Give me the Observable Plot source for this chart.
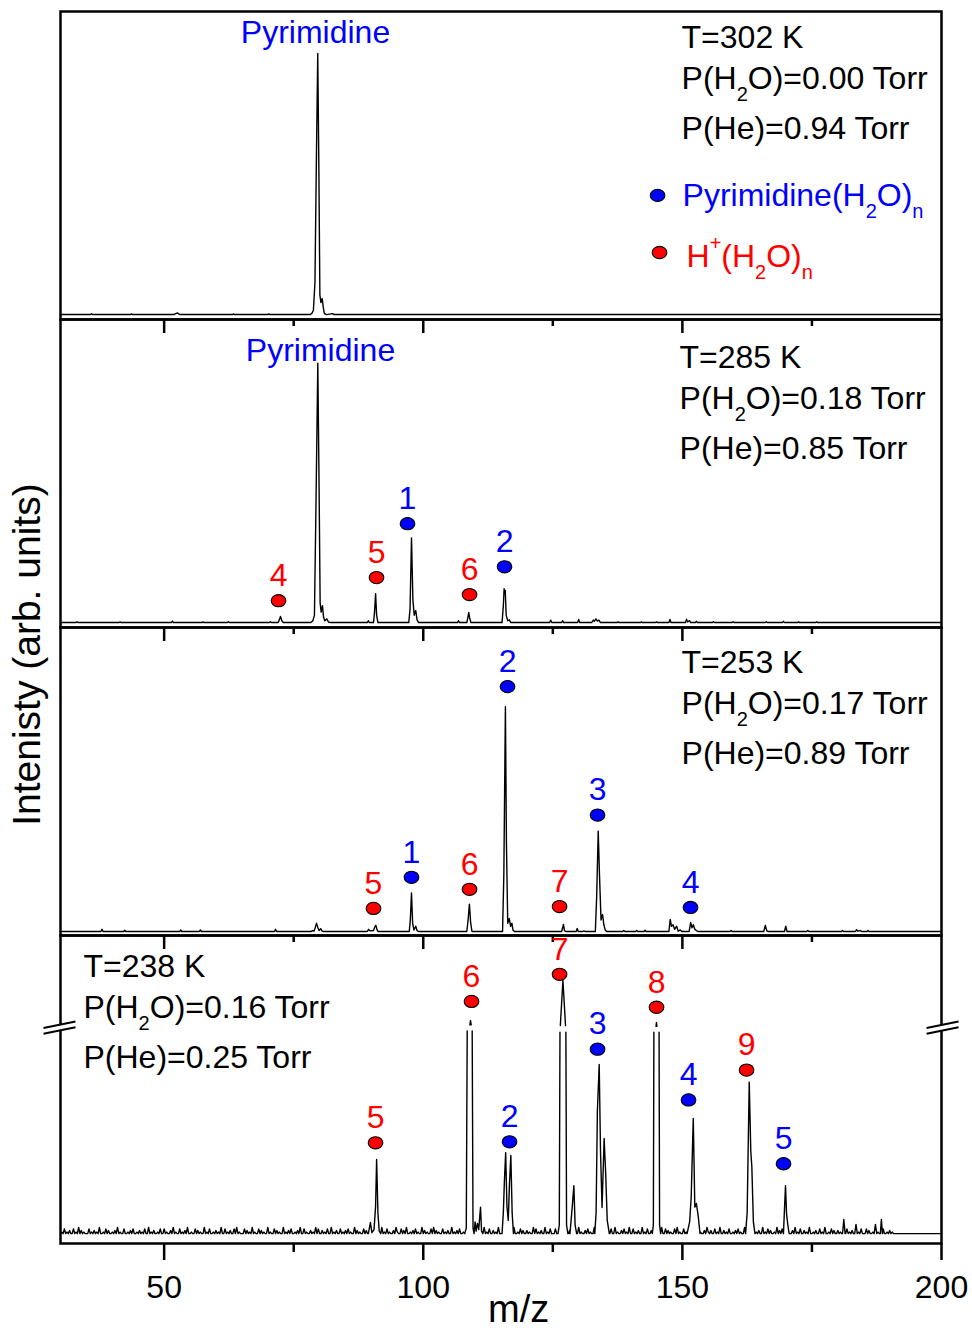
<!DOCTYPE html>
<html><head><meta charset="utf-8">
<script src="https://cdn.jsdelivr.net/npm/d3@7"></script>
<script src="https://cdn.jsdelivr.net/npm/@observablehq/plot@0.6"></script>
<style>html,body{margin:0;padding:0;background:#fff}</style>
</head><body><div id="chart"></div>
<script>
// ---------------- data ----------------
const panels = [1, 2, 3, 4];
const mzDomain = [30, 200];
const xTickLabels = [50, 100, 150, 200];
const xMinorTicks = [75, 125, 175];
const temperatures = ["302", "285", "253", "238"];
const pressureH2O = ["0.00", "0.18", "0.17", "0.16"];
const pressureHe = ["0.94", "0.85", "0.89", "0.25"];
const parentName = "Pyrimidine";
const seriesNames = {P: "Pyrimidine(H_2O)_n", H: "H^+(H_2O)_n"};
const seriesColors = {P: "#0000ff", H: "#ff0000"};

// spectra: [m/z, relative intensity (fraction of panel height)]
const trace1 = [[30,0.016],[35.8,0.016],[36.0,0.019],[36.2,0.016],[43.5,0.016],[43.7,0.018],[43.9,0.016],[51.9,0.016],[52.2,0.019],[52.6,0.021],[52.9,0.017],[53.2,0.016],[63.2,0.016],[63.4,0.018],[63.6,0.016],[70.0,0.016],[70.2,0.018],[70.4,0.016],[78.2,0.016],[78.5,0.02],[78.8,0.03],[79.1,0.12],[79.4,0.55],[79.64,0.864],[79.85,0.5],[80.05,0.08],[80.25,0.055],[80.5,0.068],[80.7,0.04],[80.9,0.02],[81.3,0.016],[82.5,0.019],[82.8,0.016],[200,0.016]];
const trace2 = [[30,0.016],[33.0,0.016],[33.2,0.019],[33.4,0.016],[41.3,0.016],[41.5,0.018],[41.7,0.016],[51.4,0.016],[51.6,0.021],[51.8,0.016],[57.3,0.016],[57.5,0.018],[57.7,0.016],[62.2,0.016],[62.4,0.019],[62.6,0.016],[70.3,0.016],[70.5,0.019],[70.7,0.016],[72.0,0.016],[72.2,0.024],[72.45,0.036],[72.7,0.022],[73.0,0.016],[78.3,0.016],[78.7,0.022],[79.0,0.04],[79.3,0.4],[79.65,0.858],[79.9,0.45],[80.1,0.08],[80.3,0.05],[80.55,0.071],[80.75,0.035],[81.0,0.022],[81.4,0.028],[81.7,0.018],[82.1,0.016],[89.2,0.016],[89.4,0.022],[89.6,0.016],[90.4,0.016],[90.6,0.05],[90.8,0.110],[91.0,0.04],[91.25,0.016],[97.2,0.016],[97.45,0.06],[97.73,0.291],[98.0,0.09],[98.25,0.04],[98.55,0.055],[98.8,0.025],[99.1,0.016],[106.6,0.016],[106.8,0.022],[107.0,0.016],[108.4,0.016],[108.6,0.032],[108.78,0.049],[108.95,0.03],[109.2,0.016],[115.2,0.016],[115.45,0.07],[115.6,0.126],[115.72,0.11],[115.82,0.12],[116.0,0.04],[116.3,0.022],[116.6,0.025],[116.9,0.016],[124.4,0.016],[124.6,0.024],[124.8,0.016],[126.7,0.016],[126.9,0.022],[127.1,0.016],[129.8,0.016],[130.0,0.026],[130.2,0.016],[132.5,0.016],[132.8,0.024],[133.0,0.02],[133.3,0.028],[133.6,0.021],[133.9,0.024],[134.2,0.016],[137.4,0.016],[137.6,0.018],[137.8,0.016],[141.9,0.016],[142.1,0.018],[142.3,0.016],[144.8,0.016],[145.0,0.018],[145.2,0.016],[147.4,0.016],[147.6,0.026],[147.8,0.016],[150.6,0.016],[150.8,0.027],[151.0,0.018],[151.4,0.022],[151.6,0.016],[152.5,0.016],[152.7,0.02],[152.9,0.016],[155.8,0.016],[156.0,0.019],[156.2,0.016],[159.6,0.016],[159.8,0.019],[160.0,0.016],[166.0,0.016],[166.2,0.019],[166.4,0.016],[169.3,0.016],[169.5,0.02],[169.7,0.016],[172.2,0.016],[172.4,0.018],[172.6,0.016],[175.7,0.016],[175.9,0.018],[176.1,0.016],[200,0.016]];
const trace3 = [[30,0.013],[37.8,0.013],[38.0,0.02],[38.2,0.013],[42.2,0.013],[42.4,0.017],[42.6,0.013],[53.0,0.013],[53.2,0.018],[53.4,0.013],[56.8,0.013],[57.0,0.018],[57.2,0.013],[71.3,0.013],[71.5,0.02],[71.7,0.013],[78.4,0.013],[78.6,0.016],[78.9,0.014],[79.15,0.025],[79.4,0.04],[79.65,0.026],[79.9,0.016],[80.2,0.022],[80.5,0.014],[80.8,0.013],[89.2,0.013],[89.45,0.02],[89.7,0.015],[90.4,0.016],[90.65,0.028],[90.85,0.033],[91.1,0.018],[91.3,0.013],[97.3,0.013],[97.5,0.05],[97.73,0.138],[97.95,0.04],[98.2,0.018],[98.55,0.03],[98.8,0.016],[99.1,0.013],[108.4,0.013],[108.65,0.05],[108.9,0.102],[109.15,0.04],[109.4,0.013],[115.3,0.013],[115.55,0.2],[115.85,0.743],[116.05,0.3],[116.3,0.04],[116.6,0.055],[116.85,0.03],[117.1,0.04],[117.3,0.018],[117.6,0.013],[126.7,0.013],[126.9,0.025],[127.05,0.036],[127.25,0.016],[127.5,0.013],[129.5,0.013],[129.7,0.023],[129.9,0.013],[130.8,0.013],[131.0,0.015],[131.2,0.013],[133.2,0.013],[133.45,0.12],[133.76,0.339],[134.0,0.2],[134.3,0.05],[134.6,0.068],[134.85,0.035],[135.1,0.018],[135.4,0.013],[138.5,0.013],[138.7,0.016],[138.9,0.013],[141.0,0.013],[141.2,0.016],[141.4,0.013],[142.6,0.013],[142.8,0.017],[143.0,0.013],[147.4,0.013],[147.65,0.052],[147.9,0.03],[148.2,0.035],[148.5,0.02],[148.9,0.03],[149.2,0.014],[149.6,0.018],[149.9,0.013],[151.3,0.013],[151.6,0.042],[151.85,0.025],[152.1,0.035],[152.4,0.02],[152.7,0.016],[153.0,0.013],[159.2,0.013],[159.4,0.016],[159.6,0.013],[165.7,0.013],[166.0,0.033],[166.3,0.015],[166.6,0.013],[169.7,0.013],[169.95,0.03],[170.2,0.013],[174.0,0.013],[174.2,0.016],[174.4,0.013],[180.7,0.013],[180.9,0.016],[181.1,0.013],[183.4,0.013],[183.6,0.019],[183.8,0.014],[184.3,0.016],[184.6,0.013],[185.6,0.013],[185.8,0.016],[186.0,0.013],[200,0.013]];
// panel 4: baseline noise read every 0.25 m/z from 30 to 191 (level digits), plus peak segments
const trace4NoiseStart = 30, trace4NoiseStep = 0.25;
const trace4NoiseBase = 0.032, trace4NoiseLevel = 0.005;
const trace4Noise =
  "01030102003010402010" + "00301020104001030200" + "10204010030010203001" + "02010300401020010300" +
  "30100204010030102040" + "01003020100401030010" + "20104003010200304010" + "00302010401003020100" +
  "40100302010040102030" + "01020400301002010403" + "00201030040102003010" + "20301004020100302010" +
  "03010200401030100204" + "10030204001020301004" + "02010030402010030102" + "00401020300104020100" +
  "30102004010300201040" + "01030010204001030200" + "20100403010200401030" + "00302001040102030010" +
  "40100203010040102003" + "01020300401002030104" + "00301020040103002010" + "20104003020100304010" +
  "03010020401030100204" + "10200301040020103001" + "02030100402010030102" + "00401030200104020300" +
  "30100204010300201040" + "01020030104001030200" + "20100403010200601030" + "00302001060102030010" +
  "20100";
const trace4Peaks = [
  [[89.4,0.032],[89.8,0.068],[90.1,0.035],[90.5,0.045],[90.8,0.12],[91.0,0.273],[91.25,0.1],[91.5,0.04],[91.8,0.032]],
  [[108.0,0.032],[108.3,0.05],[108.48,0.69],[null,null],[109.0,0.71],[109.12,0.724],[109.24,0.71],[null,null],[109.44,0.69],[109.6,0.05],[109.8,0.032],[110.0,0.07],[110.2,0.04],[110.45,0.065],[110.7,0.045],[111.05,0.118],[111.25,0.04],[111.5,0.032]],
  [[115.2,0.032],[115.45,0.1],[115.65,0.2],[115.9,0.295],[116.15,0.12],[116.4,0.075],[116.65,0.2],[116.9,0.286],[117.15,0.1],[117.4,0.032]],
  [[126.0,0.032],[126.25,0.06],[126.38,0.686],[null,null],[126.45,0.708],[126.95,0.854],[127.45,0.708],[null,null],[127.52,0.686],[127.65,0.06],[127.9,0.032]],
  [[128.3,0.032],[128.55,0.08],[128.75,0.12],[129.06,0.188],[129.3,0.06],[129.6,0.032]],
  [[133.1,0.032],[133.35,0.1],[133.6,0.432],[133.95,0.581],[134.2,0.3],[134.5,0.117],[134.9,0.341],[135.2,0.227],[135.5,0.075],[135.9,0.032]],
  [[144.2,0.032],[144.4,0.06],[144.5,0.686],[null,null],[144.92,0.705],[145.0,0.718],[145.08,0.705],[null,null],[145.5,0.686],[145.6,0.06],[145.8,0.032]],
  [[150.9,0.032],[151.4,0.07],[151.7,0.15],[152.1,0.406],[152.4,0.118],[152.7,0.13],[153.05,0.09],[153.4,0.032]],
  [[162.2,0.032],[162.5,0.1],[162.9,0.524],[163.2,0.3],[163.4,0.25],[163.7,0.07],[164.0,0.032]],
  [[169.5,0.032],[169.9,0.188],[170.1,0.097],[170.35,0.06],[170.6,0.032]],
  [[180.9,0.032],[181.15,0.078],[181.4,0.032]],
  [[188.2,0.032],[188.4,0.078],[188.6,0.032]]
];
const trace4Tail = [[191.3,0.032],[200,0.032]];

// cluster markers: [panel, m/z, height, series, n]
const markers = [
  [2,72.07,0.087,"H",4],[2,90.98,0.162,"H",5],[2,96.96,0.337,"P",1],[2,108.93,0.107,"H",6],[2,115.68,0.197,"P",2],
  [3,90.40,0.088,"H",5],[3,97.73,0.189,"P",1],[3,108.93,0.150,"H",6],[3,116.26,0.808,"P",2],[3,126.30,0.094,"H",7],[3,133.63,0.391,"P",3],[3,151.57,0.091,"P",4],
  [4,90.79,0.327,"H",5],[4,109.31,0.786,"H",6],[4,116.65,0.330,"P",2],[4,126.30,0.874,"H",7],[4,133.63,0.631,"P",3],[4,145.01,0.767,"H",8],[4,151.19,0.466,"P",4],[4,162.38,0.563,"H",9],[4,169.52,0.259,"P",5]
];

// ---------------- layout (data-space anchors) ----------------
const W = 972, H = 1331, MT = 10, MB = 88, ML = 60, MR = 31;
const PANEL_PX = (H - MT - MB) / panels.length;
const condAnchor = {1: [149.84, 0.880], 2: [149.45, 0.841], 3: [149.84, 0.853], 4: [34.44, 0.864]};
const condLineDy = [0, 41, 91];
const parentLabelAt = [{panel: 1, mz: 79.21, y: 0.897}, {panel: 2, mz: 80.17, y: 0.864}];
const legendAt = [
  {s: "P", dot: [145.21, 0.403], text: [150.03, 0.367]},
  {s: "H", dot: [145.59, 0.2175], text: [150.80, 0.172]}
];
const yLabelAt = {panel: 3, mz: 26.14, y: 0.912};
const xLabelAt = {panel: 4, mz: 118.4, y: -0.256};
const breakAt = [[26.72, 32.89], [197.12, 203.29]];
const breakY = [[0.700, 0.721], [0.681, 0.702]];

// ---------------- build rows ----------------
const traceRows = [];
[trace1, trace2, trace3].forEach((t, i) => t.forEach(([mz, y]) => traceRows.push({panel: i + 1, mz, y})));
{
  const ranges = trace4Peaks.map(seg => [seg[0][0], seg[seg.length - 1][0]]);
  const pieces = [];
  for (let i = 0; i < trace4Noise.length; i++) {
    const mz = trace4NoiseStart + i * trace4NoiseStep;
    if (ranges.some(([a, b]) => mz >= a && mz <= b)) continue;
    pieces.push({start: mz, pts: [[mz, trace4NoiseBase + Number(trace4Noise[i]) * trace4NoiseLevel]]});
  }
  trace4Peaks.forEach(seg => pieces.push({start: seg[0][0], pts: seg}));
  pieces.sort((a, b) => a.start - b.start);
  pieces.forEach(p => p.pts.forEach(([mz, y]) => traceRows.push({panel: 4, mz: mz ?? NaN, y: y ?? NaN})));
  trace4Tail.forEach(([mz, y]) => traceRows.push({panel: 4, mz, y}));
}
const markerRows = markers.map(([panel, mz, y, s, n]) => ({panel, mz, y, s, n: String(n)}));

const topTicks = [2, 3, 4].flatMap(panel => [
  ...xTickLabels.filter(t => t < mzDomain[1]).map(x => ({panel, x, len: 14 / PANEL_PX})),
  ...xMinorTicks.map(x => ({panel, x, len: 7 / PANEL_PX}))
]);
const bottomTicks = [
  ...xTickLabels.map(x => ({panel: 4, x, len: 17 / PANEL_PX})),
  ...xMinorTicks.map(x => ({panel: 4, x, len: 9 / PANEL_PX}))
];
const condRows = panels.map((p, i) => ({
  panel: p, x: condAnchor[p][0], y: condAnchor[p][1],
  lines: ["T=" + temperatures[i] + " K", "P(H_2O)=" + pressureH2O[i] + " Torr", "P(He)=" + pressureHe[i] + " Torr"]
}));
const breakLines = breakAt.flatMap(([x1, x2]) => breakY.map(([y1, y2]) => ({panel: 4, x1, x2, y1, y2})));
const breakFill = breakAt.map(([x1, x2]) => ({panel: 4, x1, x2, y1: (breakY[0][0] + breakY[1][0]) / 2, y2: (breakY[0][1] + breakY[1][1]) / 2}));

// ellipse marker symbol
const ellipse = {
  draw(ctx, size) {
    const r = Math.sqrt(size / Math.PI), rx = r * 1.2, ry = r, k = 0.5523;
    ctx.moveTo(rx, 0);
    ctx.bezierCurveTo(rx, ry * k, rx * k, ry, 0, ry);
    ctx.bezierCurveTo(-rx * k, ry, -rx, ry * k, -rx, 0);
    ctx.bezierCurveTo(-rx, -ry * k, -rx * k, -ry, 0, -ry);
    ctx.bezierCurveTo(rx * k, -ry, rx, -ry * k, rx, 0);
    ctx.closePath();
  }
};

const FONT = "'Liberation Sans', Arial, Helvetica, sans-serif";
const marks = [
  Plot.frame({stroke: "black", strokeWidth: 2.5}),
  Plot.line(traceRows, {x: "mz", y: "y", fy: "panel", stroke: "black", strokeWidth: 1.4, strokeLinejoin: "round"}),
  Plot.ruleX(topTicks, {x: "x", y1: 1, y2: d => 1 - d.len, fy: "panel", stroke: "black", strokeWidth: 2.5}),
  Plot.ruleX(bottomTicks, {x: "x", y1: 0, y2: d => -d.len, fy: "panel", stroke: "black", strokeWidth: 2.5}),
  Plot.link(breakFill, {x1: "x1", y1: "y1", x2: "x2", y2: "y2", fy: "panel", stroke: "white", strokeWidth: 5}),
  Plot.link(breakLines, {x1: "x1", y1: "y1", x2: "x2", y2: "y2", fy: "panel", stroke: "black", strokeWidth: 2}),
  ...["P", "H"].map(s => Plot.dot(markerRows.filter(d => d.s === s), {x: "mz", y: "y", fy: "panel", r: 6.1, symbol: ellipse, fill: seriesColors[s], stroke: "black", strokeWidth: 1.1})),
  ...["P", "H"].map(s => Plot.text(markerRows.filter(d => d.s === s), {x: "mz", y: "y", fy: "panel", text: "n", dy: -25, fill: seriesColors[s], fontSize: 32, textAnchor: "middle", lineAnchor: "middle"})),
  Plot.text(parentLabelAt, {x: "mz", y: "y", fy: "panel", text: () => parentName, fill: seriesColors.P, fontSize: 32, textAnchor: "middle", lineAnchor: "bottom"}),
  ...legendAt.map(l => Plot.dot([l], {x: d => d.dot[0], y: d => d.dot[1], fy: () => 1, r: 6.1, symbol: ellipse, fill: seriesColors[l.s], stroke: "black", strokeWidth: 1.1})),
  ...legendAt.map(l => Plot.text([l], {x: d => d.text[0], y: d => d.text[1], fy: () => 1, text: d => seriesNames[d.s], fill: seriesColors[l.s], fontSize: 32, textAnchor: "start", lineAnchor: "bottom"})),
  ...condLineDy.map((dy, k) => Plot.text(condRows, {x: "x", y: "y", fy: "panel", text: d => d.lines[k], dy, fill: "black", fontSize: 32, textAnchor: "start", lineAnchor: "bottom"})),
  Plot.text([yLabelAt], {x: "mz", y: "y", fy: "panel", text: () => "Intenisty (arb. units)", rotate: -90, fontSize: 39, fill: "black", textAnchor: "middle", lineAnchor: "bottom"}),
  Plot.text([xLabelAt], {x: "mz", y: "y", fy: "panel", text: () => "m/z", fontSize: 38, fill: "black", textAnchor: "middle", lineAnchor: "bottom"})
];

const chart = Plot.plot({
  width: W, height: H,
  marginTop: MT, marginBottom: MB, marginLeft: ML, marginRight: MR,
  x: {domain: mzDomain, ticks: xTickLabels, tickSize: 0, tickPadding: 32, label: null},
  y: {domain: [0, 1], axis: null},
  fy: {domain: panels, axis: null, padding: 0},
  style: {fontFamily: FONT, fontSize: "32px", background: "white", color: "black", overflow: "visible"},
  marks
});

// render _x as subscript and ^x as superscript
const SVGNS = "http://www.w3.org/2000/svg";
chart.querySelectorAll("text").forEach(el => {
  const s = el.textContent;
  if (!/[_^]/.test(s) || el.children.length) return;
  const runs = [];
  for (let i = 0; i < s.length; i++) {
    let c = s[i], mode = "n";
    if ((c === "_" || c === "^") && i + 1 < s.length) { mode = c === "_" ? "sub" : "sup"; c = s[++i]; }
    const last = runs[runs.length - 1];
    if (last && last.mode === "n" && mode === "n") last.text += c; else runs.push({mode, text: c});
  }
  el.textContent = "";
  let shift = 0;
  for (const r of runs) {
    const t = document.createElementNS(SVGNS, "tspan");
    const target = r.mode === "sub" ? 12 : r.mode === "sup" ? -17 : 0;
    if (target !== shift) t.setAttribute("dy", target - shift);
    shift = target;
    if (r.mode !== "n") t.setAttribute("font-size", 20);
    t.textContent = r.text;
    el.appendChild(t);
  }
});
document.getElementById("chart").appendChild(chart);
</script>
</body></html>
